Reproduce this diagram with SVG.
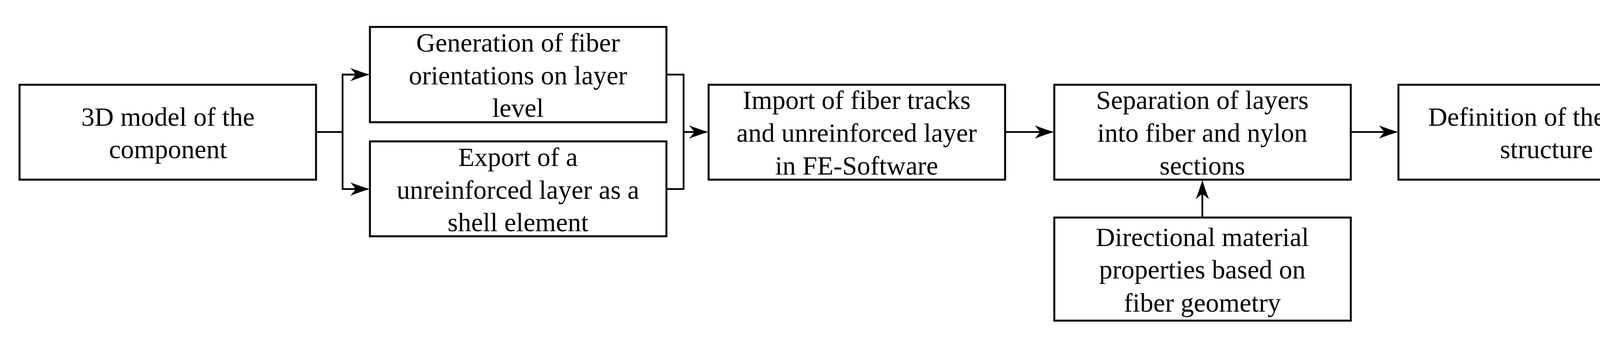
<svg xmlns="http://www.w3.org/2000/svg" width="4396" height="868" viewBox="0 0 4396 868">
<style>
.box{fill:#fff;stroke:#000;stroke-width:5}
.lbl{font-family:"Liberation Serif","Times New Roman",serif;font-size:68px;fill:#000;text-anchor:middle}
.con{fill:none;stroke:#000;stroke-width:4.5}
</style>
<defs>
<marker id="arr" markerUnits="userSpaceOnUse" viewBox="-52 -19 54 38" markerWidth="54" markerHeight="38" refX="-30" refY="0" orient="auto">
<path d="M0,0 Q-22,-6 -50,-17 L-36,0 L-50,17 Q-22,6 0,0 Z" fill="#000"/>
</marker>
</defs>
<rect width="4396" height="868" fill="#fff"/>
<g id="connectors">
<polyline class="con" points="809,338 877,338"/>
<polyline class="con" points="917,191 877,191 877,484 917,484" marker-end="url(#arr)"/>
<line class="con" x1="877" y1="191" x2="917" y2="191" marker-end="url(#arr)"/>
<polyline class="con" points="1706,191 1750,191 1750,484 1706,484"/>
<line class="con" x1="1750" y1="338" x2="1784" y2="338" marker-end="url(#arr)"/>
<line class="con" x1="2573" y1="338" x2="2669" y2="338" marker-end="url(#arr)"/>
<line class="con" x1="3458" y1="338" x2="3550" y2="338" marker-end="url(#arr)"/>
<line class="con" x1="3078" y1="557" x2="3078" y2="490" marker-end="url(#arr)"/>
</g>
<g id="n1">
<rect class="box" x="50" y="217" width="759" height="243"/>
<text class="lbl" x="430" y="322">3D model of the</text>
<text class="lbl" x="430" y="405">component</text>
</g>
<g id="n2">
<rect class="box" x="947" y="69" width="759" height="244"/>
<text class="lbl" x="1326" y="132">Generation of fiber</text>
<text class="lbl" x="1326" y="216">orientations on layer</text>
<text class="lbl" x="1326" y="299">level</text>
</g>
<g id="n3">
<rect class="box" x="947" y="362" width="759" height="243"/>
<text class="lbl" x="1326" y="425">Export of a</text>
<text class="lbl" x="1326" y="509">unreinforced layer as a</text>
<text class="lbl" x="1326" y="592">shell element</text>
</g>
<g id="n4">
<rect class="box" x="1814" y="217" width="759" height="243"/>
<text class="lbl" x="2193" y="279">Import of fiber tracks</text>
<text class="lbl" x="2193" y="363">and unreinforced layer</text>
<text class="lbl" x="2193" y="447">in FE-Software</text>
</g>
<g id="n5">
<rect class="box" x="2699" y="217" width="759" height="243"/>
<text class="lbl" x="3078" y="279">Separation of layers</text>
<text class="lbl" x="3078" y="363">into fiber and nylon</text>
<text class="lbl" x="3078" y="447">sections</text>
</g>
<g id="n6">
<rect class="box" x="3580" y="217" width="759" height="243"/>
<text class="lbl" x="3959" y="322">Definition of the layer</text>
<text class="lbl" x="3959" y="405">structure</text>
</g>
<g id="n7">
<rect class="box" x="2699" y="557" width="759" height="264"/>
<text class="lbl" x="3078" y="630">Directional material</text>
<text class="lbl" x="3078" y="713">properties based on</text>
<text class="lbl" x="3078" y="798">fiber geometry</text>
</g>
</svg>
